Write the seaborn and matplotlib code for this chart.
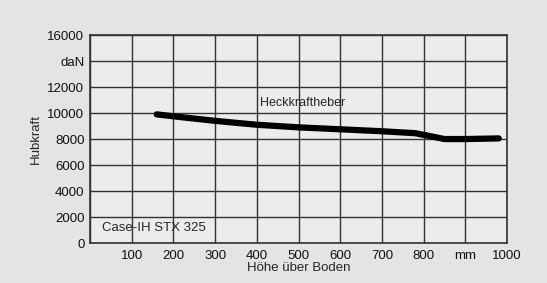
import matplotlib
matplotlib.use("Agg")
import matplotlib.pyplot as plt
import seaborn as sns
import pandas as pd

# curve: height above ground (mm) vs lift force (daN)
hoehe = [160, 200, 300, 400, 500, 600, 700, 780, 850, 900, 980]
hubkraft = [9900, 9750, 9400, 9100, 8900, 8750, 8600, 8450, 8000, 8000, 8050]

x_ticks = [100, 200, 300, 400, 500, 600, 700, 800, 900, 1000]
x_labels = ['100', '200', '300', '400', '500', '600', '700', '800', 'mm', '1000']
y_ticks = [0, 2000, 4000, 6000, 8000, 10000, 12000, 14000, 16000]
y_labels = ['0', '2000', '4000', '6000', '8000', '10000', '12000', 'daN', '16000']

df = pd.DataFrame({'hoehe': hoehe, 'hubkraft': hubkraft})

sns.set_style('white')
plt.rcParams['font.family'] = ['Liberation Sans', 'DejaVu Sans']

fig = plt.figure(figsize=(5.47, 2.83), dpi=100, facecolor='#e4e4e4')
ax = fig.add_axes([0.1645, 0.1413, 0.7625, 0.7347])
ax.set_facecolor('#ececec')

sns.lineplot(x='hoehe', y='hubkraft', data=df, color='black', linewidth=4.5, ax=ax)

ax.set_xlim(0, 1000)
ax.set_ylim(0, 16000)
ax.set_xticks(x_ticks)
ax.set_xticklabels(x_labels)
ax.set_yticks(y_ticks)
ax.set_yticklabels(y_labels)
ax.set_xticks(range(0, 1001, 100), minor=True)
ax.grid(True, which='both', color='#333333', linewidth=1.0)
ax.tick_params(axis='both', length=0, labelsize=9.5, colors='#111111', pad=4)
ax.tick_params(axis='x', pad=5)
for s in ax.spines.values():
    s.set_color('#333333')
    s.set_linewidth(1.2)

ax.set_xlabel('Höhe über Boden', fontsize=9.5, labelpad=0)
ax.set_ylabel('Hubkraft', fontsize=9.5, labelpad=4)

ax.text(407, 10750, 'Heckkraftheber', fontsize=9, va='center', ha='left')
ax.text(29, 1150, 'Case-IH STX 325', fontsize=9.5, va='center', ha='left')

plt.savefig('out.png', dpi=100, facecolor=fig.get_facecolor())
